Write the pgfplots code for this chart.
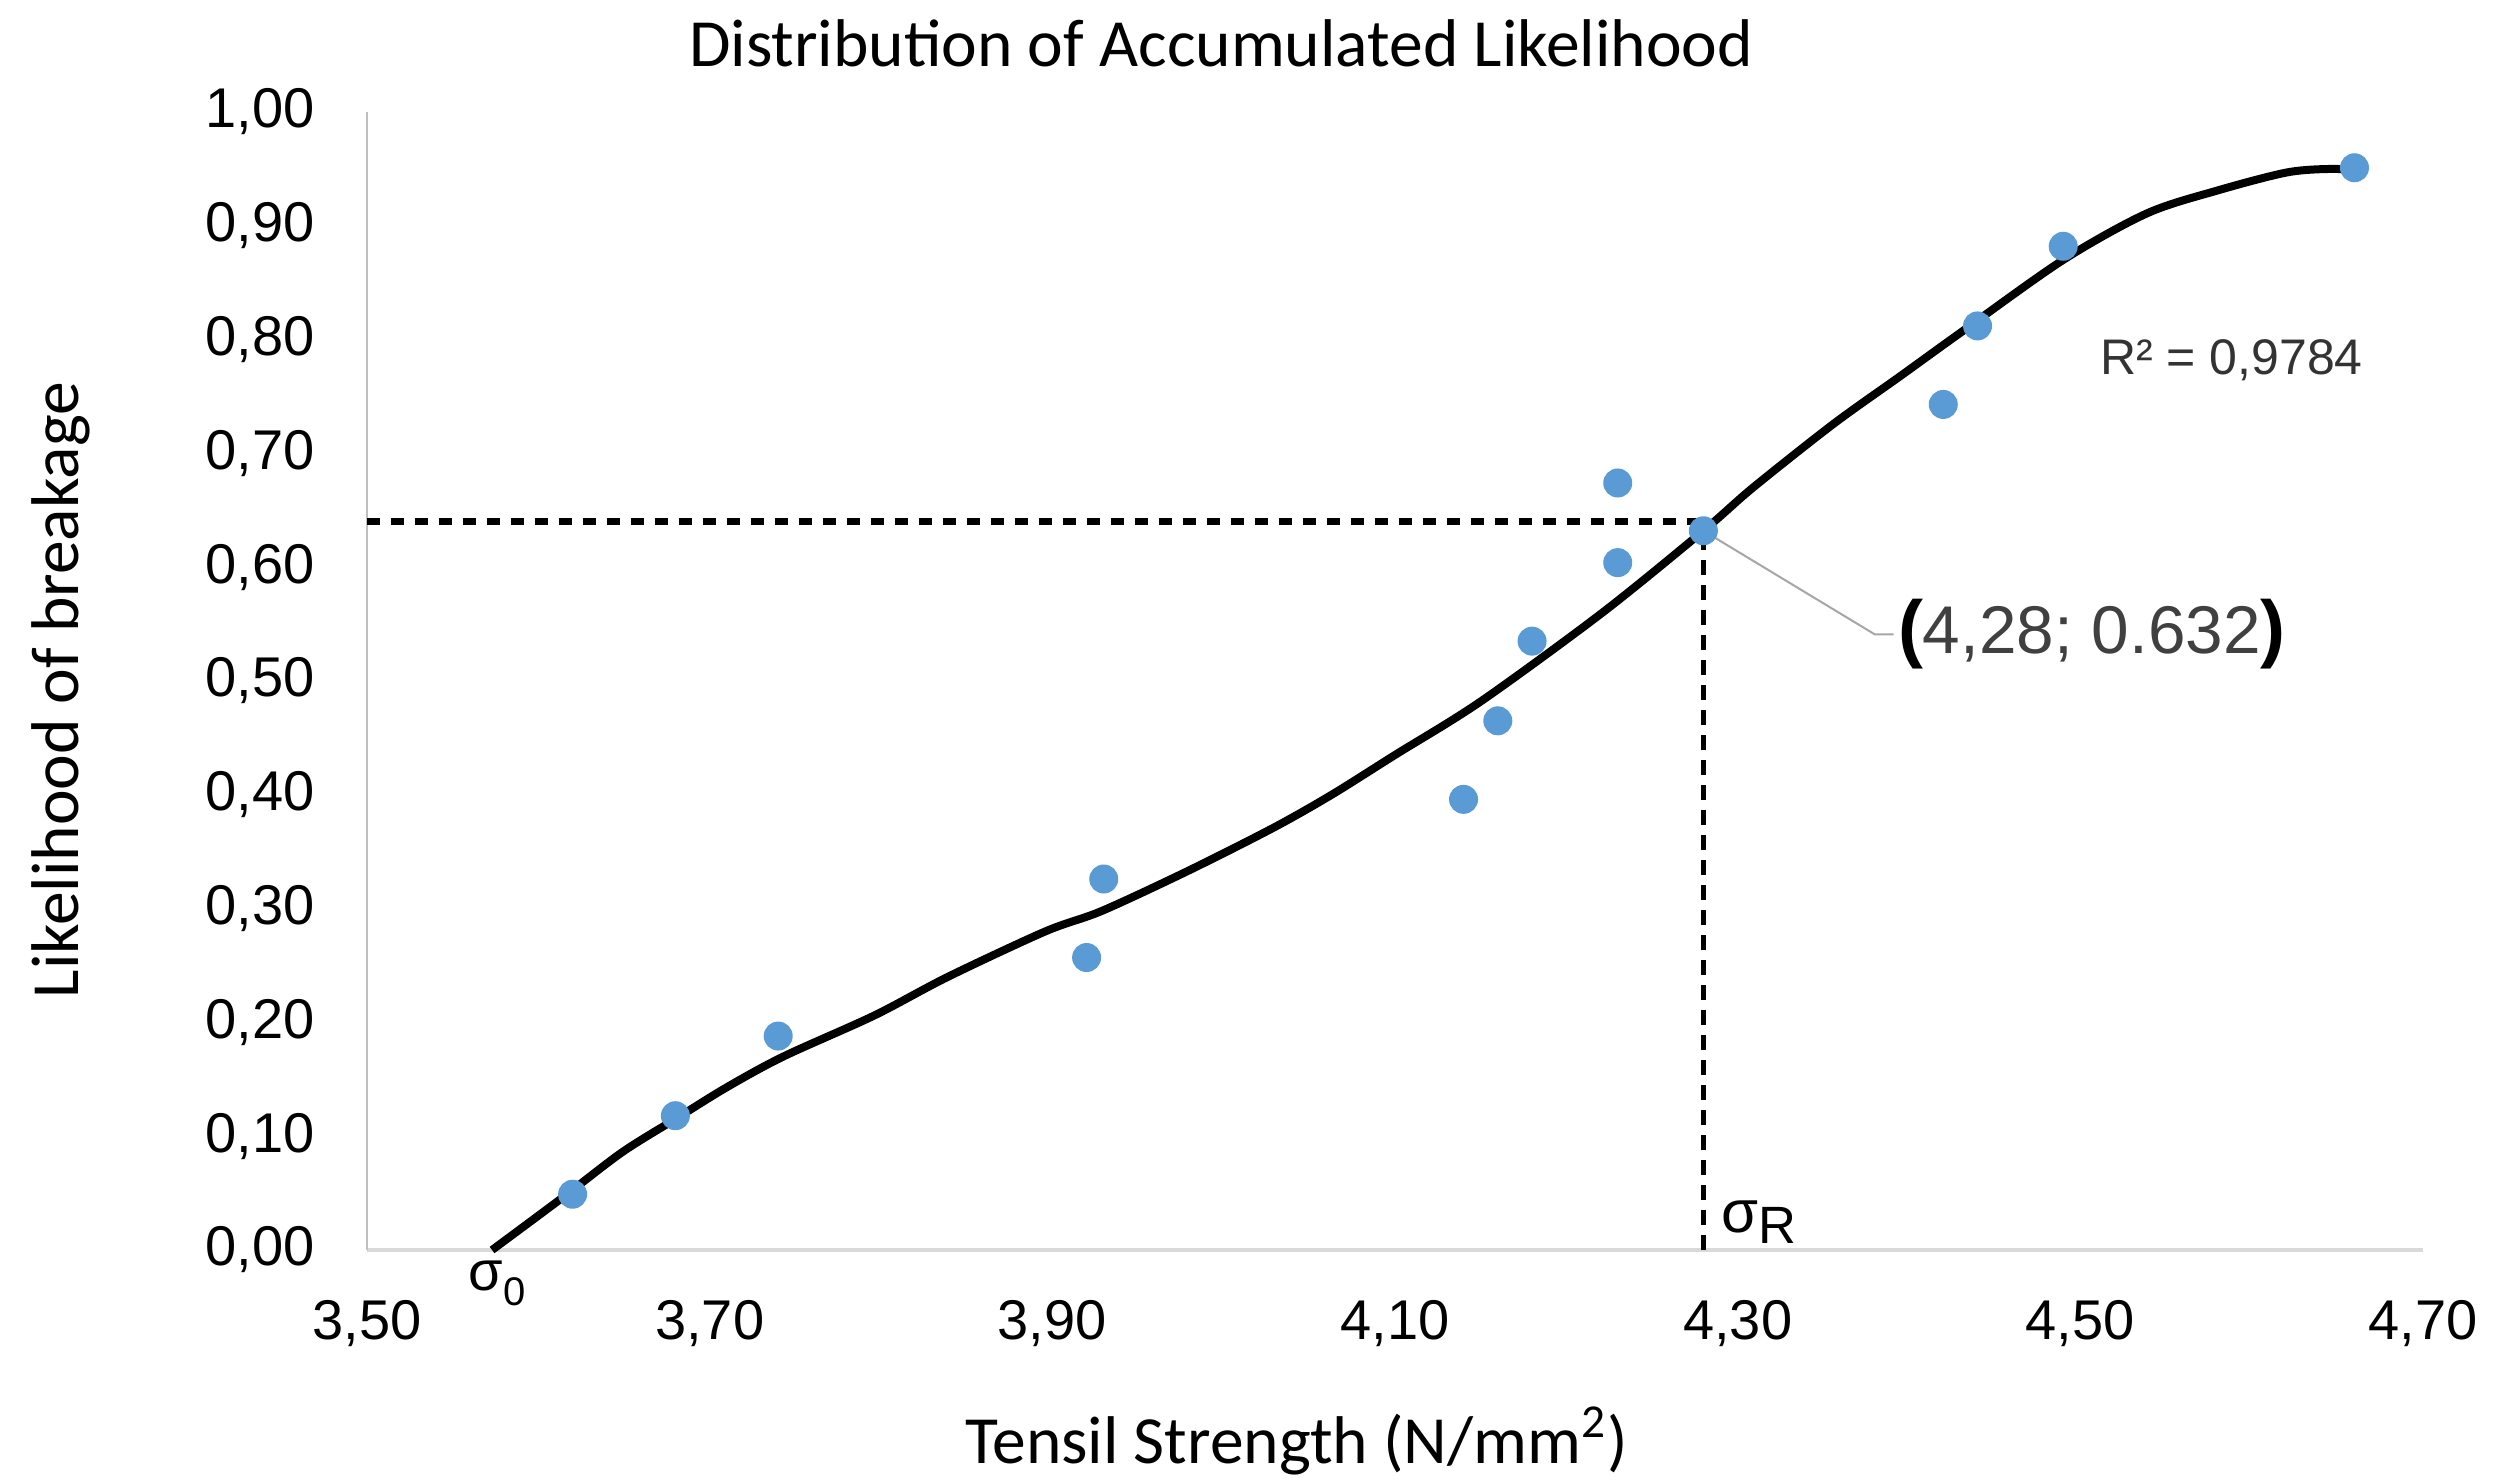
\documentclass[border=0pt]{standalone}
\usepackage{fontspec}
\setmainfont{Liberation Sans}
\newfontfamily\carlito{Carlito}
\usepackage{pgfplots}
\pgfplotsset{compat=1.18}
\definecolor{ptblue}{HTML}{5B9BD5}
\definecolor{axgray}{HTML}{BFBFBF}
\definecolor{xaxgray}{HTML}{D9D9D9}
\definecolor{annogray}{HTML}{404040}
\begin{document}
\begin{tikzpicture}
\useasboundingbox (-73.4pt,-46.6pt) rectangle (427.2pt,250pt);
\begin{axis}[
  scale only axis, width=411.2pt, height=227.6pt,
  xmin=3.5, xmax=4.7, ymin=0, ymax=1,
  axis x line=bottom, axis y line=left,
  x axis line style={-, draw=xaxgray, line width=0.8pt},
  y axis line style={-, draw=axgray, line width=0.4pt},
  xtick={3.5,3.7,3.9,4.1,4.3,4.5,4.7},
  ytick={0,0.1,0.2,0.3,0.4,0.5,0.6,0.7,0.8,0.9,1},
  major tick length=0pt,
  tick label style={font=\fontsize{11.2}{13}\selectfont},
  xticklabel style={yshift=-6.5pt},
  yticklabel style={xshift=-7pt},
  /pgf/number format/.cd, fixed, fixed zerofill, precision=2, use comma, assume math mode=true,
  /pgfplots/.cd,
  every axis title shift=0pt,
  title={Distribution of Accumulated Likelihood},
  title style={font=\carlito\fontsize{13.5}{15}\selectfont, at={(0.4154,1)}, anchor=base, yshift=9pt},
  xlabel={Tensil Strength (N/mm\textsuperscript{2})},
  xlabel style={font=\carlito\fontsize{13.5}{15}\selectfont, at={(0.4523,0)}, anchor=center, yshift=-38.2pt},
  ylabel={Likelihood of breakage},
  ylabel style={font=\carlito\fontsize{13.5}{15}\selectfont, at={(0,0.492)}, anchor=center, yshift=61.2pt},
  clip=false,
]
% measured points (median ranks)
\addplot[only marks, mark=*, mark size=2.7pt, mark options={draw=ptblue, fill=ptblue}] coordinates {
  (3.62,0.049) (3.68,0.118) (3.74,0.188) (3.92,0.257) (3.93,0.326)
  (4.14,0.396) (4.16,0.465) (4.18,0.535) (4.23,0.604) (4.23,0.674)
  (4.42,0.743) (4.44,0.812) (4.49,0.882) (4.66,0.951) (4.28,0.632)
};
% trend line
\addplot[black, line width=1.6pt, smooth] coordinates {
  (3.573,0) (3.615,0.047) (3.649,0.086) (3.681,0.116) (3.71,0.143)
  (3.743,0.17) (3.796,0.206) (3.839,0.24) (3.896,0.28) (3.929,0.298)
  (3.979,0.333) (4.029,0.371) (4.063,0.40) (4.10,0.435) (4.15,0.482)
  (4.221,0.56) (4.28,0.632) (4.309,0.670) (4.356,0.726) (4.395,0.768)
  (4.43,0.806) (4.49,0.87) (4.539,0.911) (4.58,0.931) (4.621,0.947)
  (4.648,0.950) (4.66,0.948)
};
% guide lines
\addplot[black, line width=1.3pt, dash pattern=on 2.6pt off 2.2pt] coordinates {(3.5,0.64) (4.28,0.64)};
\addplot[black, line width=0.9pt, dash pattern=on 3pt off 2pt] coordinates {(4.28,0) (4.28,0.632)};
% leader line to annotation
\addplot[gray!70, line width=0.4pt] coordinates {(4.28,0.632) (4.380,0.541) (4.391,0.541)};
\node[anchor=west, inner sep=0pt, font=\fontsize{13.5}{15}\selectfont] at (axis cs:4.393,0.541)
  {{\fontsize{15}{15}\selectfont\bfseries (}\textcolor{annogray}{4,28; 0.632}{\fontsize{15}{15}\selectfont\bfseries )}};
\node[anchor=west, inner sep=0pt, font=\fontsize{10}{12}\selectfont, text=annogray!80!black] at (axis cs:4.511,0.782) {R² = 0,9784};
\node[anchor=north, inner sep=0pt, font=\fontsize{11.2}{13}\selectfont, yshift=-2pt] at (axis cs:3.576,0)
  {σ\raisebox{-0.5ex}{\fontsize{8}{8}\selectfont 0}};
\node[anchor=south west, inner sep=0pt, font=\fontsize{12}{14}\selectfont, yshift=1pt] at (axis cs:4.29,0)
  {σ\raisebox{-0.35ex}{\fontsize{10.5}{12}\selectfont R}};
\end{axis}
\end{tikzpicture}
\end{document}
